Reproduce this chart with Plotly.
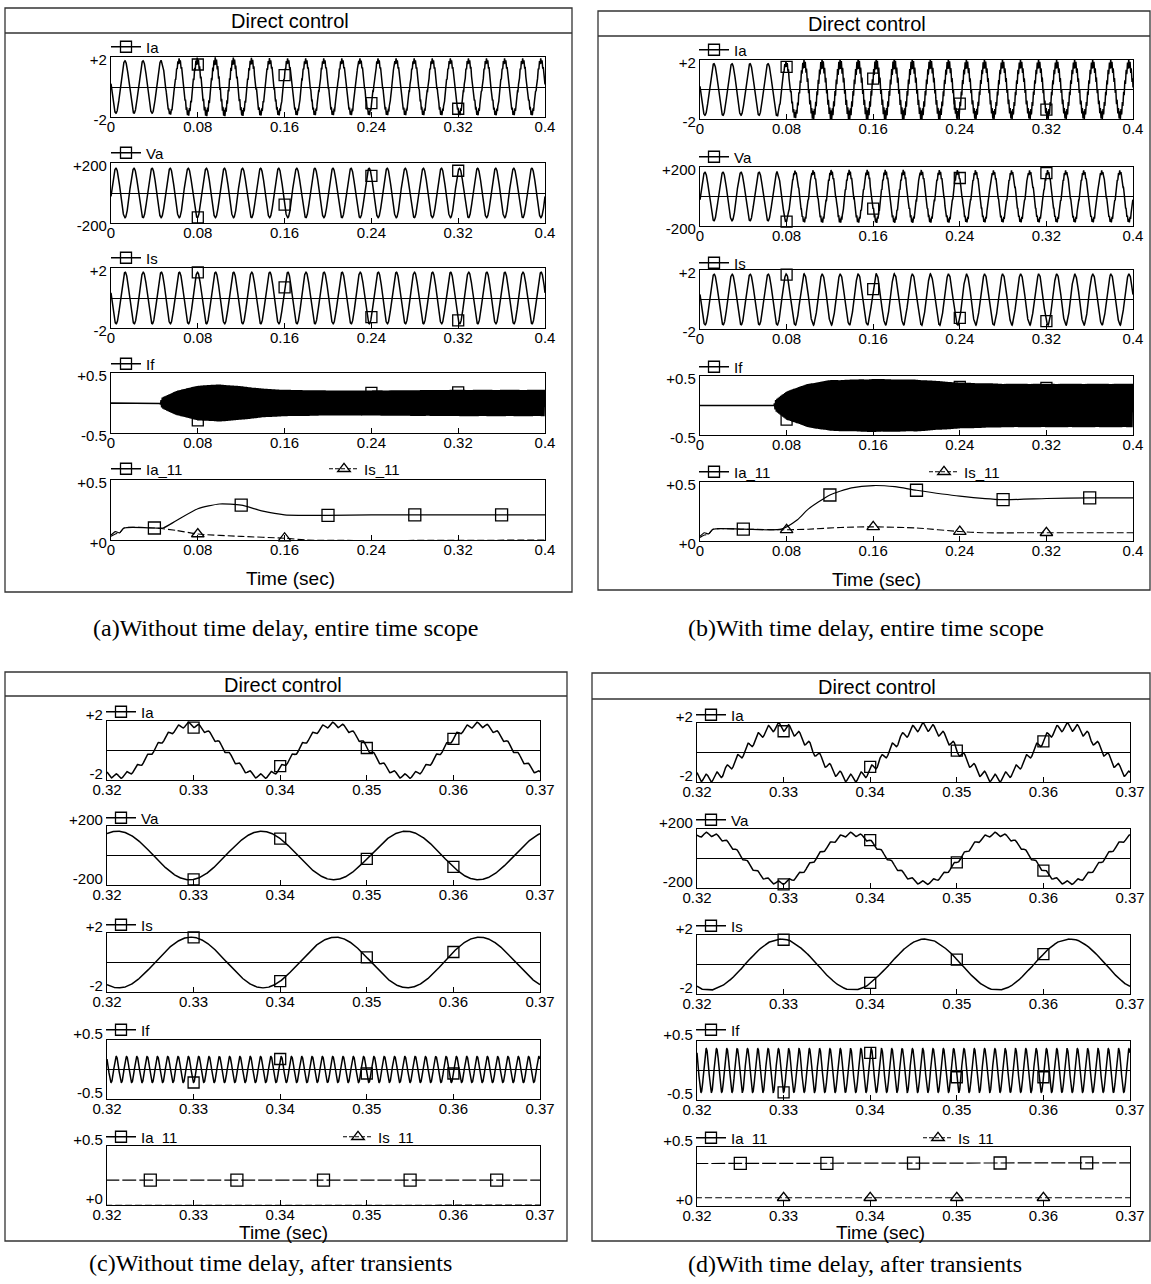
import numpy as np
import plotly.graph_objects as go

W, H = 1151, 1284

# ---------------- values ----------------
# time axes
X_TICKVALS_FULL = [0, 0.08, 0.16, 0.24, 0.32, 0.4]
X_TICKTEXT_FULL = ["0", "0.08", "0.16", "0.24", "0.32", "0.4"]
X_RANGE_FULL = [0, 0.4]
X_TICKVALS_ZOOM = [0.32, 0.33, 0.34, 0.35, 0.36, 0.37]
X_TICKTEXT_ZOOM = ["0.32", "0.33", "0.34", "0.35", "0.36", "0.37"]
X_RANGE_ZOOM = [0.32, 0.37]

# y scales and their tick labels
SIGNALS = ["Ia", "Va", "Is", "If", "I11"]
LEGEND_NAMES = ["Ia", "Va", "Is", "If", "Ia_11"]
IS11_NAME = "Is_11"
Y_RANGE = {"Ia": [-2, 2], "Va": [-200, 200], "Is": [-2, 2], "If": [-0.5, 0.5], "I11": [0, 0.5]}
Y_TICKTEXT = {"Ia": ["-2", "+2"], "Va": ["-200", "+200"], "Is": ["-2", "+2"],
              "If": ["-0.5", "+0.5"], "I11": ["+0", "+0.5"]}

# waveform parameters (fundamental, amplitudes, peak instants)
F_GRID_HZ = 60.0
F_RIPPLE_HZ = 840.0
RIPPLE_PHASE_CYC = 0.55
IA_AMP = 1.75
IA_PEAK_T = 0.3295
VA_AMP = 165.0
VA_PEAK_T = 0.3212
IS_AMP = 1.72
IS_PEAK_T = 0.3297

# ripple carried by each signal, per unit of the If envelope
RIPPLE_K_NODELAY = {"Ia": 0.75, "Va": 0.0, "Is": 0.0}
RIPPLE_K_DELAY = {"Ia": 0.75, "Va": 35.0, "Is": 0.08}

# If envelope (half peak-to-peak)
IF_ENV_T_NODELAY = [0.0, 0.045, 0.047, 0.06, 0.08, 0.10, 0.12, 0.14, 0.16, 0.20, 0.24, 0.32, 0.40]
IF_ENV_NODELAY = [0.0, 0.0, 0.09, 0.20, 0.29, 0.31, 0.28, 0.24, 0.22, 0.21, 0.21, 0.22, 0.22]
IF_ENV_T_DELAY = [0.0, 0.068, 0.070, 0.08, 0.10, 0.12, 0.16, 0.20, 0.24, 0.28, 0.32, 0.40]
IF_ENV_DELAY = [0.0, 0.0, 0.10, 0.24, 0.37, 0.43, 0.45, 0.44, 0.39, 0.37, 0.37, 0.37]

# slow quantities Ia_11 / Is_11
IA11_T_NODELAY = [0.0, 0.004, 0.008, 0.012, 0.04, 0.048, 0.06, 0.08, 0.10, 0.12, 0.14, 0.16, 0.20, 0.24, 0.28, 0.32, 0.36, 0.40]
IA11_NODELAY = [0.04, 0.07, 0.06, 0.10, 0.10, 0.10, 0.16, 0.26, 0.30, 0.29, 0.24, 0.21, 0.205, 0.21, 0.21, 0.21, 0.21, 0.21]
IS11_T_NODELAY = [0.0, 0.004, 0.008, 0.012, 0.04, 0.06, 0.08, 0.12, 0.16, 0.18, 0.40]
IS11_NODELAY = [0.03, 0.05, 0.06, 0.10, 0.10, 0.08, 0.05, 0.03, 0.015, 0.0, 0.0]
IA11_T_DELAY = [0.0, 0.004, 0.008, 0.012, 0.04, 0.075, 0.09, 0.10, 0.12, 0.14, 0.16, 0.18, 0.20, 0.24, 0.28, 0.32, 0.36, 0.40]
IA11_DELAY = [0.04, 0.07, 0.06, 0.10, 0.10, 0.10, 0.18, 0.27, 0.39, 0.45, 0.47, 0.46, 0.43, 0.38, 0.35, 0.36, 0.365, 0.365]
IS11_T_DELAY = [0.0, 0.004, 0.008, 0.012, 0.04, 0.08, 0.10, 0.13, 0.16, 0.20, 0.24, 0.26, 0.32, 0.40]
IS11_DELAY = [0.03, 0.05, 0.06, 0.10, 0.10, 0.095, 0.10, 0.115, 0.12, 0.11, 0.08, 0.07, 0.07, 0.07]

# marker instants
WAVE_MARK_T_FULL = [0.08, 0.16, 0.24, 0.32]
WAVE_MARK_T_ZOOM = [0.33, 0.34, 0.35, 0.36]
IA11_MARK_T_FULL = [0.04, 0.12, 0.20, 0.28, 0.36]
IA11_MARK_T_ZOOM = [0.325, 0.335, 0.345, 0.355, 0.365]
IS11_MARK_T_NODELAY_FULL = [0.08, 0.16]
IS11_MARK_T_DELAY_FULL = [0.08, 0.16, 0.24, 0.32]
IS11_MARK_T_NODELAY_ZOOM = []
IS11_MARK_T_DELAY_ZOOM = [0.33, 0.34, 0.35, 0.36]

TITLE = "Direct control"
XLABEL = "Time (sec)"
CAPTIONS = ["(a)Without time delay, entire time scope",
            "(b)With time delay, entire time scope",
            "(c)Without time delay, after transients",
            "(d)With time delay, after transients"]

# ---------------- signal construction ----------------
def if_envelope(t, delay):
    if delay:
        return np.interp(t, IF_ENV_T_DELAY, IF_ENV_DELAY)
    return np.interp(t, IF_ENV_T_NODELAY, IF_ENV_NODELAY)


def carrier(t):
    return np.sin(2 * np.pi * (F_RIPPLE_HZ * t + RIPPLE_PHASE_CYC))


def signal(name, t, delay):
    t = np.asarray(t, dtype=float)
    env = if_envelope(t, delay)
    if name == "If":
        return env * carrier(t)
    amp, peak = {"Ia": (IA_AMP, IA_PEAK_T), "Va": (VA_AMP, VA_PEAK_T), "Is": (IS_AMP, IS_PEAK_T)}[name]
    k = (RIPPLE_K_DELAY if delay else RIPPLE_K_NODELAY)[name]
    return amp * np.cos(2 * np.pi * F_GRID_HZ * (t - peak)) + k * env * carrier(t)


T_FULL = np.linspace(0.0, 0.4, 6401)
T_ZOOM = np.linspace(0.32, 0.37, 2001)

# ---------------- layout (pixel geometry) ----------------
FONT = "Liberation Sans, Arial, Helvetica, sans-serif"
SERIF = "Liberation Serif, Times New Roman, serif"

PANELS = [
    dict(delay=False, zoom=False, x0=111, x1=545, tops=[57, 163, 268, 373, 480], h=60,
         frame=(5, 8, 572, 592), title_line=33, title_xy=(290, 21), time_xy=(290, 578),
         cap_xy=(285, 628), leg_x=106, leg_y=[47, 153, 258, 364, 469], is11_leg_x=324),
    dict(delay=True, zoom=False, x0=700, x1=1133, tops=[60, 167, 270, 376, 482], h=59,
         frame=(598, 11, 1150, 590), title_line=36, title_xy=(867, 24), time_xy=(876, 580),
         cap_xy=(866, 628), leg_x=694, leg_y=[50, 157, 263, 367, 472], is11_leg_x=924),
    dict(delay=False, zoom=True, x0=107, x1=540, tops=[721, 826, 933, 1040, 1146], h=59,
         frame=(5, 672, 567, 1241), title_line=696, title_xy=(283, 685), time_xy=(283, 1232),
         cap_xy=(270, 1263), leg_x=101, leg_y=[712, 818, 925, 1030, 1137], is11_leg_x=338),
    dict(delay=True, zoom=True, x0=697, x1=1130, tops=[723, 829, 935, 1041, 1147], h=59,
         frame=(592, 673, 1150, 1241), title_line=699, title_xy=(877, 687), time_xy=(880, 1232),
         cap_xy=(855, 1264), leg_x=691, leg_y=[715, 820, 926, 1030, 1138], is11_leg_x=918),
]


def fx(p):
    return p / W


def fy(p):
    return 1 - p / H


fig = go.Figure()
layout = dict(width=W, height=H,
              margin=dict(l=0, r=0, t=0, b=0, pad=0, autoexpand=False),
              paper_bgcolor="white", plot_bgcolor="white", showlegend=True,
              template="none",
              font=dict(family=FONT, size=15, color="black"))
shapes = []
annotations = []
legend_count = [0]


def new_legend(x_px, y_px):
    legend_count[0] += 1
    n = legend_count[0]
    name = "legend" if n == 1 else f"legend{n}"
    layout[name] = dict(x=fx(x_px), y=fy(y_px), xanchor="left", yanchor="middle",
                        xref="paper", yref="paper",
                        bgcolor="rgba(0,0,0,0)", borderwidth=0, orientation="h",
                        itemwidth=30, tracegroupgap=0,
                        font=dict(family=FONT, size=15, color="black"))
    return name


for pi, P in enumerate(PANELS):
    delay, zoom = P["delay"], P["zoom"]
    t = T_ZOOM if zoom else T_FULL
    xr = X_RANGE_ZOOM if zoom else X_RANGE_FULL
    xtv = X_TICKVALS_ZOOM if zoom else X_TICKVALS_FULL
    xtt = X_TICKTEXT_ZOOM if zoom else X_TICKTEXT_FULL
    mark_t = np.array(WAVE_MARK_T_ZOOM if zoom else WAVE_MARK_T_FULL)

    for ri, sig in enumerate(SIGNALS):
        k = pi * 5 + ri + 1
        xa = "xaxis" if k == 1 else f"xaxis{k}"
        ya = "yaxis" if k == 1 else f"yaxis{k}"
        xref = "x" if k == 1 else f"x{k}"
        yref = "y" if k == 1 else f"y{k}"
        top = P["tops"][ri]
        bot = top + P["h"]
        layout[xa] = dict(domain=[fx(P["x0"]), fx(P["x1"])], anchor=yref, range=xr,
                          automargin=False,
                          showgrid=False, zeroline=False, showline=True, linecolor="black",
                          linewidth=1.3, mirror=True, ticks="inside", ticklen=5,
                          tickcolor="black", tickwidth=1.2, tickmode="array",
                          tickvals=xtv, ticktext=xtt, ticklabelstandoff=-4,
                          tickfont=dict(family=FONT, size=15, color="black"))
        yr = Y_RANGE[sig]
        layout[ya] = dict(domain=[fy(bot), fy(top)], anchor=xref, range=yr,
                          automargin=False,
                          showgrid=False, zeroline=(sig != "I11"), zerolinecolor="black",
                          zerolinewidth=1.1, showline=True, linecolor="black", linewidth=1.3,
                          mirror=True, ticks="", tickmode="array", tickvals=yr,
                          ticktext=Y_TICKTEXT[sig], ticklabelshift=(-6 if zoom else 3),
                          tickfont=dict(family=FONT, size=15, color="black"))

        leg = new_legend(P["leg_x"], P["leg_y"][ri])
        if sig != "I11":
            y = signal(sig, t, delay)
            fig.add_trace(go.Scatter(x=t, y=y, mode="lines", xaxis=xref, yaxis=yref,
                                     line=dict(color="black", width=1.5), showlegend=False,
                                     hoverinfo="skip"))
            fig.add_trace(go.Scatter(x=mark_t, y=signal(sig, mark_t, delay), mode="markers",
                                     xaxis=xref, yaxis=yref, cliponaxis=False,
                                     marker=dict(symbol="square-open", size=11, color="black",
                                                 line=dict(width=1.3, color="black")),
                                     showlegend=False, hoverinfo="skip"))
            fig.add_trace(go.Scatter(x=[None], y=[None], mode="lines+markers", name=LEGEND_NAMES[ri],
                                     xaxis=xref, yaxis=yref, legend=leg,
                                     line=dict(color="black", width=1.3),
                                     marker=dict(symbol="square-open", size=11, color="black",
                                                 line=dict(width=1.3, color="black"))))
        else:
            ta = IA11_T_DELAY if delay else IA11_T_NODELAY
            va = IA11_DELAY if delay else IA11_NODELAY
            ts = IS11_T_DELAY if delay else IS11_T_NODELAY
            vs = IS11_DELAY if delay else IS11_NODELAY
            ma = np.array(IA11_MARK_T_ZOOM if zoom else IA11_MARK_T_FULL)
            if zoom:
                ms = np.array(IS11_MARK_T_DELAY_ZOOM if delay else IS11_MARK_T_NODELAY_ZOOM)
            else:
                ms = np.array(IS11_MARK_T_DELAY_FULL if delay else IS11_MARK_T_NODELAY_FULL)
            ia_dash = "14px,3px" if zoom else "solid"
            fig.add_trace(go.Scatter(x=ta, y=va, mode="lines", xaxis=xref, yaxis=yref,
                                     line=dict(color="black", width=1.2, dash=ia_dash, shape="spline",
                                               smoothing=0.6),
                                     showlegend=False, hoverinfo="skip"))
            fig.add_trace(go.Scatter(x=ts, y=vs, mode="lines", xaxis=xref, yaxis=yref,
                                     line=dict(color="black", width=1.1, dash="7px,3px", shape="spline",
                                               smoothing=0.6),
                                     showlegend=False, hoverinfo="skip"))
            fig.add_trace(go.Scatter(x=ma, y=np.interp(ma, ta, va), mode="markers",
                                     xaxis=xref, yaxis=yref, cliponaxis=False,
                                     marker=dict(symbol="square-open", size=12, color="black",
                                                 line=dict(width=1.3, color="black")),
                                     showlegend=False, hoverinfo="skip"))
            if len(ms):
                fig.add_trace(go.Scatter(x=ms, y=np.interp(ms, ts, vs), mode="markers",
                                         xaxis=xref, yaxis=yref, cliponaxis=False,
                                         marker=dict(symbol="triangle-up-open", size=11, color="black",
                                                     line=dict(width=1.3, color="black")),
                                         showlegend=False, hoverinfo="skip"))
            fig.add_trace(go.Scatter(x=[None], y=[None], mode="lines+markers", name=LEGEND_NAMES[ri],
                                     xaxis=xref, yaxis=yref, legend=leg,
                                     line=dict(color="black", width=1.3),
                                     marker=dict(symbol="square-open", size=11, color="black",
                                                 line=dict(width=1.3, color="black"))))
            leg2 = new_legend(P["is11_leg_x"], P["leg_y"][ri])
            fig.add_trace(go.Scatter(x=[None], y=[None], mode="lines+markers", name=IS11_NAME,
                                     xaxis=xref, yaxis=yref, legend=leg2,
                                     line=dict(color="black", width=1.1, dash="4px,2px"),
                                     marker=dict(symbol="triangle-up-open", size=11, color="black",
                                                 line=dict(width=1.3, color="black"))))

    # frame, title bar and texts
    x0, y0, x1, y1 = P["frame"]
    shapes.append(dict(type="rect", xref="paper", yref="paper", x0=fx(x0), x1=fx(x1),
                       y0=fy(y1), y1=fy(y0), line=dict(color="#333333", width=1.3)))
    shapes.append(dict(type="line", xref="paper", yref="paper", x0=fx(x0), x1=fx(x1),
                       y0=fy(P["title_line"]), y1=fy(P["title_line"]),
                       line=dict(color="#333333", width=1.3)))
    annotations.append(dict(text=TITLE, x=fx(P["title_xy"][0]), y=fy(P["title_xy"][1]),
                            xref="paper", yref="paper", showarrow=False, xanchor="center",
                            yanchor="middle", font=dict(family=FONT, size=20, color="black")))
    annotations.append(dict(text=XLABEL, x=fx(P["time_xy"][0]), y=fy(P["time_xy"][1]),
                            xref="paper", yref="paper", showarrow=False, xanchor="center",
                            yanchor="middle", font=dict(family=FONT, size=19, color="black")))
    annotations.append(dict(text=CAPTIONS[pi], x=fx(P["cap_xy"][0]), y=fy(P["cap_xy"][1]),
                            xref="paper", yref="paper", showarrow=False, xanchor="center",
                            yanchor="middle", font=dict(family=SERIF, size=24, color="black")))

layout["shapes"] = shapes
layout["annotations"] = annotations
fig.update_layout(layout)
fig.write_html("out.html")
